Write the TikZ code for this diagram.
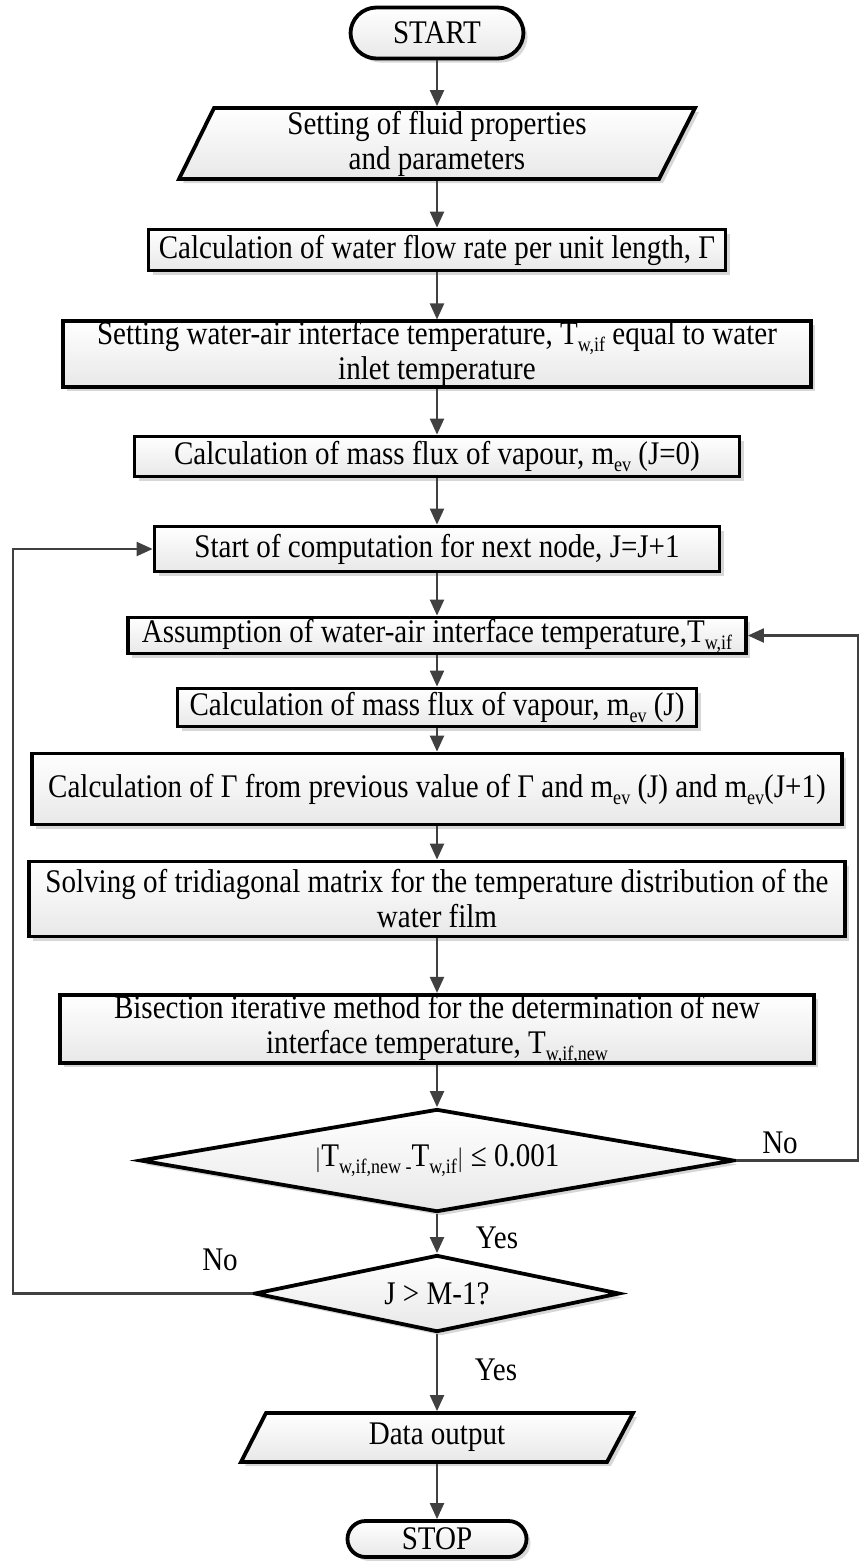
\documentclass[tikz,border=0pt]{standalone}
\usepackage{fontspec}
\setmainfont{Liberation Serif}[FakeStretch=0.88]
\usetikzlibrary{shapes.geometric,arrows.meta,shadows}
\definecolor{linegray}{HTML}{404040}
\newcommand{\mainfs}{\fontsize{33pt}{35pt}\selectfont}
\newcommand{\subt}[1]{\raisebox{-7pt}{\fontsize{20.5pt}{20.5pt}\selectfont #1}}

\begin{document}
\begin{tikzpicture}[x=1pt,y=-1pt,
  every node/.style={font=\mainfs, text=black},
  boxshade/.style={top color=white, bottom color=black!9,
    drop shadow={shadow xshift=4pt, shadow yshift=-4pt, fill=black!35, opacity=0.45}},
  procbox/.style={boxshade, draw=black, line width=3.8pt, rectangle,
    inner sep=0pt, align=center},
  termbox/.style={procbox},
  iobox/.style={boxshade, draw=black, line width=3.8pt},
  iotext/.style={inner sep=0pt, outer sep=1.9pt, align=center, minimum width=380pt},
  decision/.style={boxshade, draw=black, line width=3.8pt, shape=diamond,
    inner sep=0pt, align=center},
  flow/.style={draw=linegray, line width=2.2pt, -{Triangle[length=16pt,width=14pt]}},
  tag/.style={inner sep=0pt}
]
\useasboundingbox (0,0) rectangle (861,1561);

% terminators
\node[termbox, rounded corners=26pt, minimum width=173pt, minimum height=51pt]
  (start) at (437,33) {START};

% input
\draw[iobox] (214,108) -- (695,108) -- (659,179) -- (179,179) -- cycle;
\node[iotext, minimum height=71pt] (inp) at (437,143.5)
  {Setting of fluid properties\\and parameters};

% processing steps
\node[procbox, minimum width=577pt, minimum height=41pt] (gam) at (437,250)
  {Calculation of water flow rate per unit length, Γ};
\node[procbox, minimum width=748pt, minimum height=65pt] (tinit) at (437,354)
  {Setting water-air interface temperature, T\subt{w,if} equal to water\\inlet temperature};
\node[procbox, minimum width=605pt, minimum height=40pt] (mzero) at (437,456.5)
  {Calculation of mass flux of vapour, m\subt{ev} (J=0)};
\node[procbox, minimum width=565pt, minimum height=45pt] (next) at (437,549)
  {Start of computation for next node, J=J+1};
\node[procbox, minimum width=618pt, minimum height=36pt] (assume) at (437,635.5)
  {Assumption of water-air interface temperature,T\subt{w,if}};
\node[procbox, minimum width=519pt, minimum height=38pt] (mj) at (437,707.5)
  {Calculation of mass flux of vapour, m\subt{ev} (J)};
\node[procbox, minimum width=810pt, minimum height=71pt] (gnew) at (437,789)
  {Calculation of Γ from previous value of Γ and m\subt{ev} (J) and m\subt{ev}(J+1)};
\node[procbox, minimum width=816pt, minimum height=75pt] (tri) at (437,899)
  {Solving of tridiagonal matrix for the temperature distribution of the\\water film};
\node[procbox, minimum width=754pt, minimum height=65pt] (bis) at (437,1029)
  {Bisection iterative method for the determination of new\\interface temperature, T\subt{w,if,new}};

% decisions
\node[decision, aspect=5.6, minimum width=594pt, minimum height=103pt] (conv) at (437,1160.5)
  {$|$T\subt{w,if,new -}T\subt{w,if}$|$ ≤ 0.001};
\node[decision, aspect=4.6, minimum width=365pt, minimum height=77pt] (last) at (437,1293.5)
  {J > M-1?};

% output
\draw[iobox] (266,1413) -- (633,1413) -- (607,1462) -- (241,1462) -- cycle;
\node[iotext, minimum width=300pt, minimum height=49pt] (outp) at (437,1437.5) {Data output};

\node[termbox, rounded corners=18pt, minimum width=179pt, minimum height=36pt]
  (stop) at (437,1539) {STOP};

% branch labels
\node[tag] (noA) at (780,1143) {No};
\node[tag] (yesA) at (497,1238) {Yes};
\node[tag] (noB) at (220,1260) {No};
\node[tag] (yesB) at (496,1370) {Yes};

% main flow
\draw[flow] (start) -- (inp);
\draw[flow] (inp) -- (gam);
\draw[flow] (gam) -- (tinit);
\draw[flow] (tinit) -- (mzero);
\draw[flow] (mzero) -- (next);
\draw[flow] (next) -- (assume);
\draw[flow] (assume) -- (mj);
\draw[flow] (mj) -- (gnew);
\draw[flow] (gnew) -- (tri);
\draw[flow] (tri) -- (bis);
\draw[flow] (bis) -- (conv);
\draw[flow] (conv) -- (last);
\draw[flow] (last) -- (outp);
\draw[flow] (outp) -- (stop);

% feedback loops
\coordinate (rloop) at (858,1160.5);
\coordinate (lloop) at (13,1293.5);
\draw[flow] (conv.east) -- (rloop) |- (assume.east);
\draw[flow] (last.west) -- (lloop) |- (next.west);
\end{tikzpicture}
\end{document}
